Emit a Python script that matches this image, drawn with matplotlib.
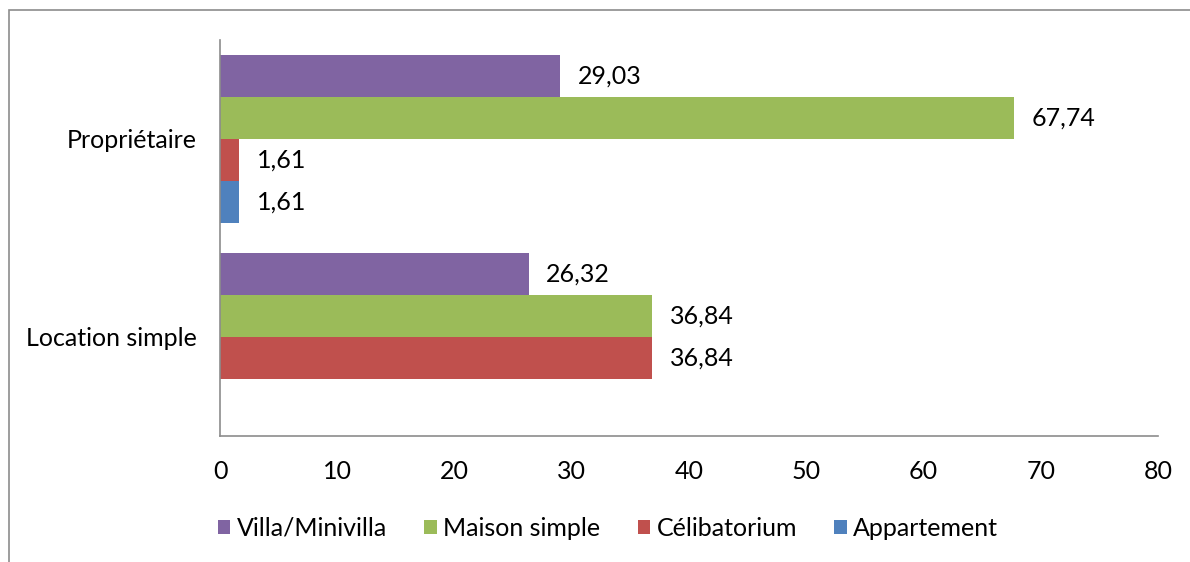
import matplotlib
matplotlib.use("Agg")
import matplotlib.pyplot as plt
import numpy as np
from matplotlib.patches import Rectangle

plt.rcParams['font.family'] = ['Lato', 'DejaVu Sans']

categories = ["Location simple", "Propriétaire"]
series_names = ["Appartement", "Célibatorium", "Maison simple", "Villa/Minivilla"]
appartement = [np.nan, 1.61]
celibatorium = [36.84, 1.61]
maison = [36.84, 67.74]
villa = [26.32, 29.03]
colors = ["#4F81BD", "#C0504D", "#9BBB59", "#8064A2"]
xticks = [0, 10, 20, 30, 40, 50, 60, 70, 80]

FS = 18
W, H = 1190, 562
fig = plt.figure(figsize=(W / 100, H / 100), dpi=100)
# outer frame
fig.add_artist(Rectangle((9 / W, -0.1), 2.0, (H - 10) / H + 0.1, transform=fig.transFigure,
                         fill=False, edgecolor="#8c8c8c", linewidth=1.2))

left, right, top, bottom = 220, 1158, 40, 436
ax = fig.add_axes([left / W, 1 - bottom / H, (right - left) / W, (bottom - top) / H])

data = [appartement, celibatorium, maison, villa]
n = len(data)
bh = 0.212
y = np.arange(len(categories))
for i, (vals, c, name) in enumerate(zip(data, colors, series_names)):
    pos = y + (i - (n - 1) / 2) * bh
    vals = np.array(vals, dtype=float)
    ax.barh(pos, vals, height=bh, color=c, label=name)
    for p, v in zip(pos, vals):
        if not np.isnan(v):
            ax.text(v + 1.5, p, f"{v:.2f}".replace(".", ","), va="center", ha="left",
                    fontsize=FS, color="black")

ax.set_xlim(0, 80)
ax.set_ylim(-0.5, 1.5)
ax.set_xticks(xticks)
ax.set_xticklabels([str(t) for t in xticks], fontsize=FS)
ax.set_yticks(y)
ax.set_yticklabels(categories, fontsize=FS)
ax.tick_params(length=0)
ax.tick_params(axis='x', pad=17)
ax.tick_params(axis='y', pad=17)
for s in ["top", "right"]:
    ax.spines[s].set_visible(False)
for s in ["left", "bottom"]:
    ax.spines[s].set_color("#8c8c8c")
    ax.spines[s].set_linewidth(1.2)

handles, labels = ax.get_legend_handles_labels()
leg = fig.legend(handles[::-1], labels[::-1], loc="center", bbox_to_anchor=(608 / W, 1 - 528 / H),
                 ncol=4, frameon=False, fontsize=FS, handlelength=0.5, handleheight=0.5,
                 handletextpad=0.25, columnspacing=1.5)

fig.savefig("out.png", dpi=100)
